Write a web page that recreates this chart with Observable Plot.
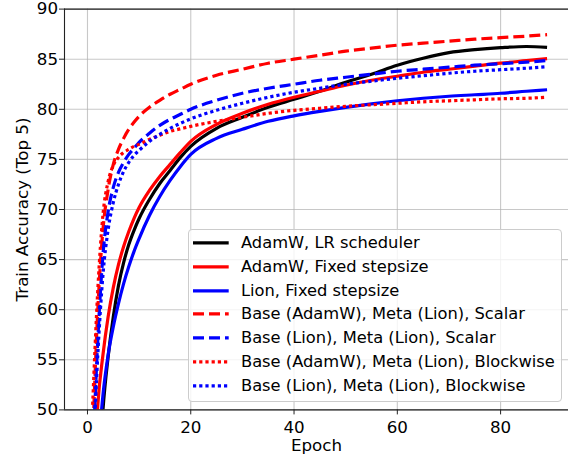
<!DOCTYPE html>
<html><head><meta charset="utf-8">
<script src="https://cdn.jsdelivr.net/npm/d3@7"></script>
<script src="https://cdn.jsdelivr.net/npm/@observablehq/plot@0.6"></script>
<style>
html,body{margin:0;padding:0;background:#fff;}
#wrap{position:relative;width:568px;height:459px;font-family:"DejaVu Sans",sans-serif;}
#legend{position:absolute;left:187.7px;top:229.3px;width:374px;height:172.7px;box-sizing:border-box;border:1px solid #cccccc;border-radius:4px;background:rgba(255,255,255,0.8);padding-top:0.45px;}
#legend .row{height:23.9px;display:flex;align-items:center;font-size:16.3px;line-height:23.9px;color:#000;white-space:nowrap;}
#legend svg{margin-left:4.6px;flex:none;}
#legend span{margin-left:12px;}
</style>
</head><body>
<div id="wrap"><div id="chart"></div><div id="legend"></div></div>
<script>
// ---------------- data ----------------
const epochs = [1,2,3,4,5,6,7,8,9,10,12,14,16,18,20,25,30,35,40,45,50,55,60,65,70,75,80,85,89];

const adamwLR      = [30,41,50,55.3,59.3,62.4,64.7,66.5,67.9,69.1,71.0,72.6,73.9,75.2,76.3,78.1,79.2,80.2,81.0,81.8,82.7,83.5,84.4,85.1,85.65,85.95,86.15,86.27,86.18];
const adamwFixed   = [40,50.5,55.5,59.3,62.2,64.5,66.3,67.8,69.1,70.2,71.9,73.3,74.5,75.7,76.8,78.5,79.6,80.5,81.2,81.8,82.4,82.9,83.3,83.7,84.0,84.3,84.6,84.85,85.05];
const lionFixed    = [35,45,51.5,55.5,58.3,60.6,62.6,64.3,65.8,67.1,69.4,71.3,72.9,74.3,75.5,77.1,78.0,78.8,79.35,79.8,80.2,80.55,80.85,81.1,81.3,81.45,81.6,81.8,81.95];
const adamwLionScalar = [47,60,68,72,74.5,76,77.1,78,78.7,79.3,80.2,80.9,81.5,82.0,82.5,83.4,84.0,84.6,85.0,85.4,85.8,86.1,86.4,86.6,86.8,87.0,87.15,87.3,87.45];
const lionLionScalar  = [45,57,65.5,69.8,72.2,73.7,74.7,75.5,76.1,76.7,77.6,78.4,79.0,79.5,80.0,80.9,81.6,82.1,82.5,82.9,83.2,83.5,83.8,84.0,84.2,84.4,84.55,84.7,84.87];
const adamwLionBlock  = [50.5,62,69.5,72.8,74.4,75.2,75.7,76.0,76.3,76.5,77.0,77.4,77.8,78.05,78.3,78.8,79.2,79.6,79.9,80.1,80.3,80.45,80.6,80.75,80.85,80.95,81.05,81.1,81.2];
const lionLionBlock   = [44,55.5,63.5,68,70.7,72.5,73.8,74.7,75.4,75.9,76.8,77.5,78.1,78.6,79.05,79.9,80.6,81.2,81.7,82.1,82.5,82.8,83.1,83.35,83.6,83.8,83.95,84.1,84.25];

const seriesNames = [
  "AdamW, LR scheduler",
  "AdamW, Fixed stepsize",
  "Lion, Fixed stepsize",
  "Base (AdamW), Meta (Lion), Scalar",
  "Base (Lion), Meta (Lion), Scalar",
  "Base (AdamW), Meta (Lion), Blockwise",
  "Base (Lion), Meta (Lion), Blockwise"
];
const seriesValues = [adamwLR, adamwFixed, lionFixed, adamwLionScalar, lionLionScalar, adamwLionBlock, lionLionBlock];

const xTicks = [0,20,40,60,80];
const yTicks = [50,55,60,65,70,75,80,85,90];
const xLabel = "Epoch";
const yLabel = "Train Accuracy (Top 5)";

// ---------------- styling ----------------
const lineStyles = [
  {stroke:"black", dash:null},
  {stroke:"red",   dash:null},
  {stroke:"blue",  dash:null},
  {stroke:"red",   dash:"11,5"},
  {stroke:"blue",  dash:"11,5"},
  {stroke:"red",   dash:"3.2,3"},
  {stroke:"blue",  dash:"3.2,3"}
];
const LW = 3.2;
const FS = 16.7;
const xDomain = [-4.45, 93.15];
const yDomain = [50, 90];

const rows = seriesNames.flatMap((name, i) =>
  epochs.map((e, j) => ({series: name, idx: i, epoch: e, acc: seriesValues[i][j]})));

const lineMarks = seriesNames.map((name, i) =>
  Plot.line(rows.filter(r => r.idx === i), {
    x: "epoch", y: "acc",
    stroke: lineStyles[i].stroke,
    strokeWidth: LW,
    strokeDasharray: lineStyles[i].dash || undefined,
    strokeLinecap: "butt",
    strokeLinejoin: "round",
    curve: "monotone-x",
    clip: true
  }));

const chart = Plot.plot({
  width: 568,
  height: 459,
  marginLeft: 64,
  marginRight: 0,
  marginTop: 8.6,
  marginBottom: 49.6,
  style: {fontFamily: "DejaVu Sans", fontSize: FS + "px", background: "white", color: "black", overflow: "visible"},
  x: {domain: xDomain},
  y: {domain: yDomain},
  marks: [
    Plot.gridX({ticks: xTicks, stroke: "#b0b0b0", strokeOpacity: 0.7, strokeWidth: 1.1}),
    Plot.gridY({ticks: yTicks, stroke: "#b0b0b0", strokeOpacity: 0.7, strokeWidth: 1.1}),
    ...lineMarks,
    Plot.ruleY([yDomain[0], yDomain[1]], {stroke: "#222", strokeWidth: 1.1}),
    Plot.ruleX([xDomain[0]], {stroke: "#222", strokeWidth: 1.1}),
    Plot.axisX({ticks: xTicks, tickSize: 5, tickPadding: 6, label: null, fontSize: FS, stroke: "#222"}),
    Plot.axisY({ticks: yTicks, tickSize: 5, tickPadding: 1.5, label: null, fontSize: FS, stroke: "#222"}),
    Plot.text([xLabel], {text: d => d, frameAnchor: "bottom", dy: 29.6, lineAnchor: "top", fontSize: FS, fill: "black"}),
    Plot.text([yLabel], {text: d => d, frameAnchor: "left", dx: -42, rotate: -90, textAnchor: "middle", lineAnchor: "middle", fontSize: FS, fill: "black"})
  ]
});
document.getElementById("chart").appendChild(chart);

// ---------------- legend ----------------
const legend = document.getElementById("legend");
seriesNames.forEach((name, i) => {
  const row = document.createElement("div");
  row.className = "row";
  const st = lineStyles[i];
  row.innerHTML = `<svg width="35.7" height="23.9"><line x1="0" x2="35.7" y1="11.95" y2="11.95" stroke="${st.stroke}" stroke-width="${LW}" ${st.dash ? `stroke-dasharray="${st.dash}"` : ""} stroke-linecap="butt"/></svg><span></span>`;
  row.querySelector("span").textContent = name;
  legend.appendChild(row);
});
</script>
</body></html>
